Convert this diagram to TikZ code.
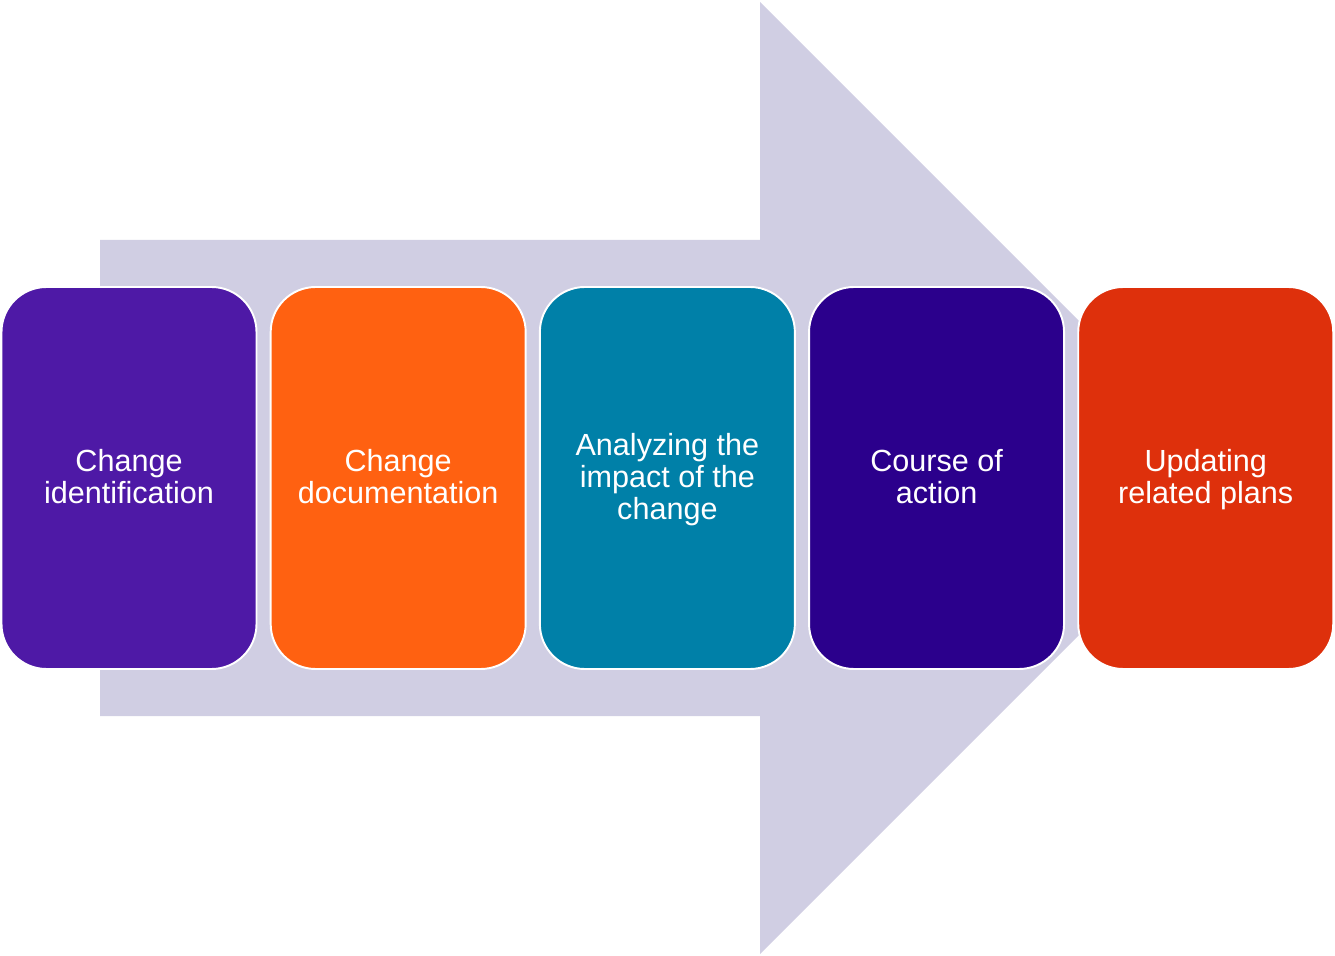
\documentclass[tikz,border=0pt]{standalone}
\usepackage{fontspec}
\setmainfont{Liberation Sans}
\usepackage{tikz}
\usetikzlibrary{positioning}
\usepackage{xcolor}
\definecolor{lilac}  {HTML}{D0CEE3}
\definecolor{grape}  {HTML}{4E19A6}
\definecolor{tangerine}{HTML}{FF6111}
\definecolor{petrol} {HTML}{0080A8}
\definecolor{indigo} {HTML}{2B008C}
\definecolor{brick}  {HTML}{DE300C}

\tikzset{
  stage/.style={draw=white, line width=1.1pt, rounded corners=0.9cm,
    minimum width=5.1cm, minimum height=7.64cm, inner sep=2pt,
    align=center, text=white, text depth=2.3pt,
    font=\fontsize{17.4}{18.2}\selectfont},
}

\begin{document}
\begin{tikzpicture}
        \useasboundingbox (0,0) rectangle (26.7,19.1);
        % background arrow
        \fill[lilac] (2.0,14.3) -- (15.2,14.3) -- (15.2,19.06) -- (24.72,9.54)
          -- (15.2,0.02) -- (15.2,4.78) -- (2.0,4.78) -- cycle;
        % stages
        \node[stage, fill=grape] (ident) at (2.58,9.54) {Change\\identification};
        \node[stage, fill=tangerine, right=0.245cm of ident] (doc) {Change\\documentation};
        \node[stage, fill=petrol, right=0.245cm of doc] (impact) {Analyzing the\\impact of the\\change};
        \node[stage, fill=indigo, right=0.245cm of impact] (course) {Course of\\action};
        \node[stage, fill=brick, right=0.245cm of course] (update) {Updating\\related plans};
      \end{tikzpicture}
\end{document}
